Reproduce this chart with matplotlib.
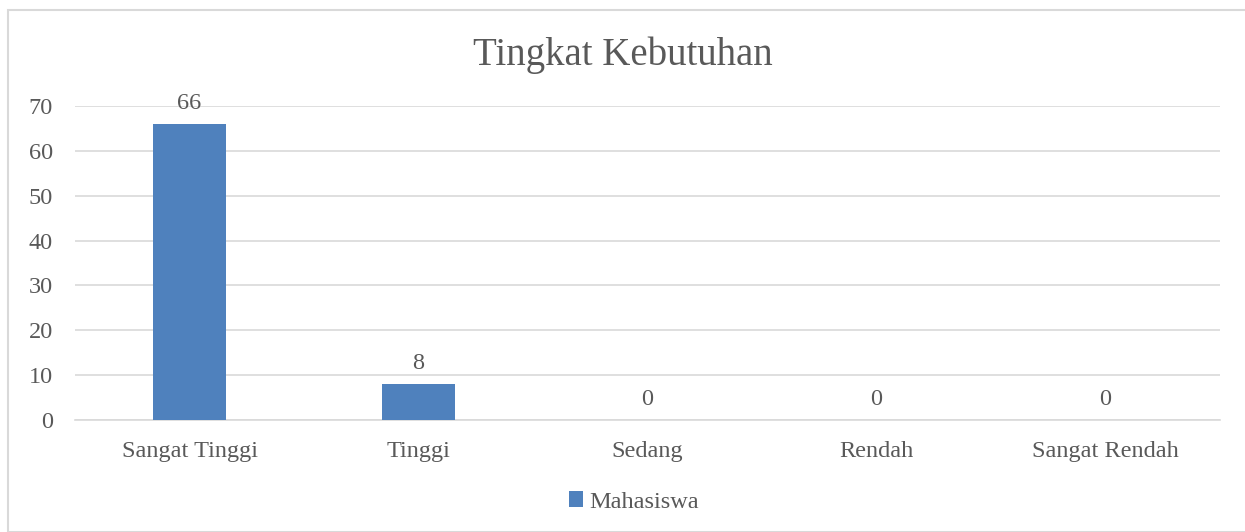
import matplotlib.pyplot as plt
from matplotlib.patches import Rectangle

categories = ['Sangat Tinggi', 'Tinggi', 'Sedang', 'Rendah', 'Sangat Rendah']
mahasiswa = [66, 8, 0, 0, 0]
y_ticks = [0, 10, 20, 30, 40, 50, 60, 70]

plt.rcParams['font.family'] = ['Liberation Serif', 'DejaVu Serif']
text_color = '#595959'
bar_color = '#4f81bd'

fig = plt.figure(figsize=(12.45, 5.32), dpi=100)
# chart border
fig.patches.append(Rectangle((8 / 1245, 0.0), 1.0, 1 - 10 / 532, transform=fig.transFigure,
                             fill=False, edgecolor='#d9d9d9', linewidth=1.5))

ax = fig.add_axes([75 / 1245, 1 - 420 / 532, (1220 - 75) / 1245, (420 - 106) / 532])
x = range(len(categories))
bars = ax.bar(x, mahasiswa, width=0.315, color=bar_color, label='Mahasiswa', zorder=3)
for xi, v in zip(x, mahasiswa):
    ax.text(xi, v + 2.2, str(v), ha='center', va='bottom', fontsize=17.5, color=text_color)

ax.set_xlim(-0.5, len(categories) - 0.5)
ax.set_ylim(0, 70)
ax.set_yticks(y_ticks)
ax.set_xticks(list(x))
ax.set_xticklabels(categories)
ax.tick_params(axis='both', length=0, labelsize=17.5, labelcolor=text_color)
ax.tick_params(axis='x', pad=15)
ax.tick_params(axis='y', pad=16)
ax.grid(axis='y', color='#d9d9d9', linewidth=1.2, zorder=0)
for s in ['top', 'right', 'left']:
    ax.spines[s].set_visible(False)
ax.spines['bottom'].set_color('#d9d9d9')
ax.spines['bottom'].set_linewidth(1.2)

fig.text(0.5, 1 - 55 / 532, 'Tingkat Kebutuhan', ha='center', va='center', fontsize=28, color=text_color)
fig.legend(handles=[bars], loc='center', bbox_to_anchor=(634 / 1245, 1 - 502 / 532), frameon=False,
           fontsize=17.5, labelcolor=text_color, handlelength=0.6, handleheight=0.6, handletextpad=0.25)

fig.savefig('out.png', dpi=100)
